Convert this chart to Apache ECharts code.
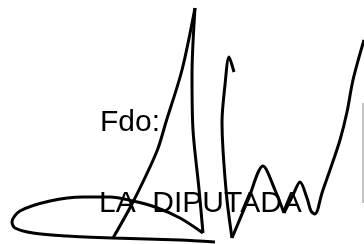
<!DOCTYPE html>
<html>
<head>
<meta charset="utf-8">
<script src="https://cdn.jsdelivr.net/npm/echarts@6/dist/echarts.min.js"></script>
<style>
  html, body { margin: 0; padding: 0; background: #fff; }
  #chart { width: 364px; height: 244px; }
</style>
</head>
<body>
<div id="chart"></div>
<script>
// texto de la firma
const labelTop = "Fdo:";
const labelBottom = "LA  DIPUTADA";

// trazos de la firma, [x, y] en pixeles de la imagen
const loopStroke = [[215, 242], [180, 240], [113, 238], [67, 236], [33, 233], [15, 228], [12, 222], [20, 211], [50, 201], [83, 197], [110, 197], [133, 201], [155, 207], [180, 218], [203, 233]];
const tallStroke = [[203, 233], [199, 189], [193, 130], [192, 75], [195, 8]];
const leftStroke = [[195, 8], [182, 70], [166, 122], [157, 151], [133, 202], [113, 238]];
const midStroke = [[234, 72], [229, 57], [225, 85], [222, 122], [223, 150], [227, 200], [232, 238]];
const humpOne = [[232, 238], [248, 200], [263, 166], [275, 190], [284, 213]];
const humpTwo = [[284, 213], [293, 195], [300, 182], [307, 198], [311, 211], [315, 214], [318, 209]];
const riseStroke = [[318, 209], [322, 193], [330, 170], [340, 140], [347, 112], [353, 80], [364, 40]];
const edgeMark = [[363, 103], [363, 203]];

const strokes = [loopStroke, tallStroke, leftStroke, midStroke, humpOne, humpTwo, riseStroke];

let chart = echarts.init(document.getElementById("chart"));

let series = strokes.map(function (pts) {
  return {
    type: "line",
    data: pts,
    smooth: 0.3,
    symbol: "none",
    lineStyle: { color: "#000", width: 3 },
    silent: true,
    animation: false,
  };
});
series.push({
  type: "line",
  data: edgeMark,
  symbol: "none",
  lineStyle: { color: "#8a8a8a", width: 1 },
  silent: true,
  animation: false,
});

chart.setOption({
  backgroundColor: "#fff",
  grid: { left: 0, right: 0, top: 0, bottom: 0 },
  xAxis: { type: "value", min: 0, max: 364, show: false },
  yAxis: { type: "value", min: 0, max: 244, inverse: true, show: false },
  graphic: [
    {
      type: "text",
      left: 100,
      top: 108,
      style: { text: labelTop, fill: "#000", font: "30px 'Liberation Sans', Arial, sans-serif" },
    },
    {
      type: "text",
      left: 99,
      top: 189,
      style: { text: labelBottom, fill: "#000", font: "30px 'Liberation Sans', Arial, sans-serif" },
    },
  ],
  series: series,
});
</script>
</body>
</html>
